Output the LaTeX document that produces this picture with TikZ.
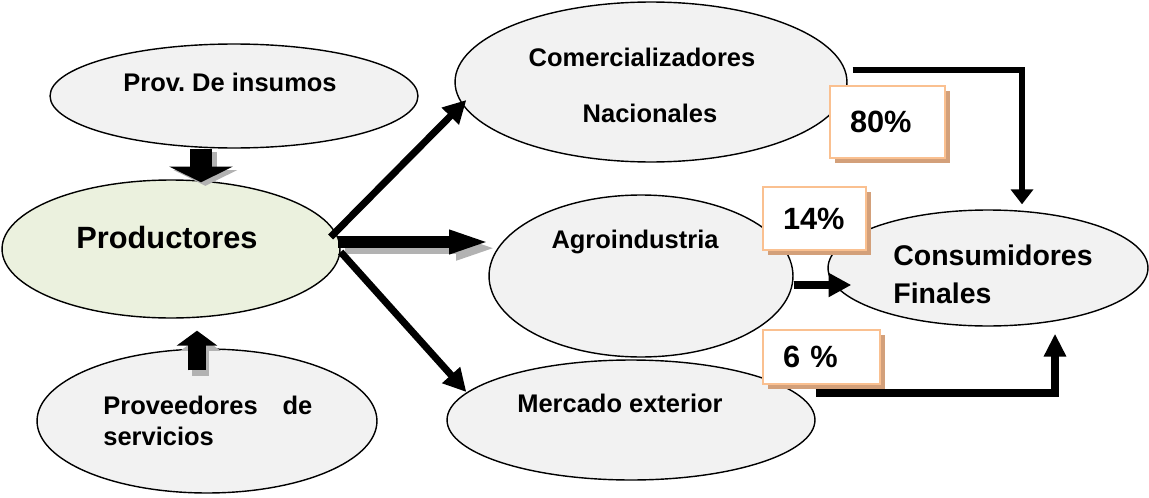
\documentclass[tikz,border=0pt]{standalone}
\usepackage{fontspec}
\setmainfont{Liberation Sans}
\usetikzlibrary{shapes.geometric,arrows.meta,calc,shadows}
\definecolor{ovalgray}{HTML}{F2F2F2}
\definecolor{prodgreen}{HTML}{EBF1DE}
\definecolor{pctline}{HTML}{FAC090}
\definecolor{pctshadow}{HTML}{D3A07A}
\tikzset{
  oval/.style={ellipse,draw,line width=0.8pt,fill=ovalgray,inner sep=0pt},
  lbl/.style={font=\bfseries\fontsize{14.5}{17}\selectfont,inner sep=0pt},
  pct/.style={draw=pctline,line width=1.6pt,fill=white,align=left,inner xsep=0.4cm,
    inner ysep=0pt,font=\bfseries\fontsize{17.5}{20}\selectfont,
    general shadow={fill=pctshadow,shadow xshift=2.8pt,shadow yshift=-2.8pt}},
  flow/.style={line width=4pt,-{Triangle[length=13pt,width=13pt]}}
}
\begin{document}
\begin{tikzpicture}[x=0.02cm,y=-0.02cm]
  \useasboundingbox (0,0) rectangle (1149,497);

  % the ovals
  \node[oval,minimum width=7.36cm,minimum height=2.08cm] (prov) at (234,96) {};
  \node[oval,fill=prodgreen,minimum width=6.76cm,minimum height=2.76cm] (prod) at (171,249) {};
  \node[oval,minimum width=6.8cm,minimum height=2.88cm] (serv) at (207,421) {};
  \node[oval,minimum width=7.36cm,minimum height=2.4cm] (mer) at (631,420) {};
  \node[oval,minimum width=6.08cm,minimum height=3.24cm] (agro) at (641,276) {};
  \node[oval,minimum width=7.84cm,minimum height=3.2cm] (com) at (651,82) {};
  \node[oval,minimum width=6.4cm,minimum height=2.32cm] (cons) at (988,268) {};

  % their texts
  \node[lbl] (tprov) at (230,82) {Prov.\ De insumos};
  \node[lbl,font=\bfseries\fontsize{17.5}{20}\selectfont] (tprod) at (167,238) {Productores};
  \node[lbl,anchor=west,text width=4.18cm,align=left,
    font=\bfseries\fontsize{14.5}{18}\selectfont] (tserv) at (103,421) {Proveedores\hfill de\\servicios};
  \node[lbl] (tcom) at (642,57) {Comercializadores};
  \node[lbl] (tnac) at (650,113) {Nacionales};
  \node[lbl] (tagro) at (635,242) {Agroindustria};
  \node[lbl] (tmer) at (620,403) {Mercado exterior};
  \node[lbl,anchor=west,align=left,
    font=\bfseries\fontsize{16.2}{21.5}\selectfont] (tcons) at (893,274) {Consumidores\\Finales};

  % block arrows into Productores
  \draw[black!30,line width=13pt,-{Triangle[length=9pt,width=36pt]},
    transform canvas={xshift=2.5pt,yshift=-2pt}]
    ($(prov.south)+(-33,0)$) -- ($(prod.north)+(30,3)$);
  \draw[line width=13pt,-{Triangle[length=9pt,width=36pt]}]
    ($(prov.south)+(-33,0)$) -- ($(prod.north)+(30,3)$);
  \draw[black!30,line width=10pt,-{Triangle[length=8.5pt,width=22.7pt]},
    transform canvas={xshift=2pt,yshift=-3pt}]
    ($(serv.north)+(-10,22)$) -- ($(prod.south)+(26,12)$);
  \draw[line width=10pt,-{Triangle[length=8.5pt,width=22.7pt]}]
    ($(serv.north)+(-10,22)$) -- ($(prod.south)+(26,12)$);
  \draw[black!30,line width=7pt,-{Triangle[length=24pt,width=12pt]},
    transform canvas={xshift=4pt,yshift=-3.5pt}]
    ($(prod.east)+(-3,-7)$) -- ($(agro.west)+(3,-34)$);
  \draw[line width=7pt,-{Triangle[length=24pt,width=12pt]}]
    ($(prod.east)+(-3,-7)$) -- ($(agro.west)+(3,-34)$);

  % flows out of Productores
  \draw[flow] ($(prod.east)+(-10,-12)$) -- ($(com.west)+(12,18)$);
  \draw[flow] ($(prod.east)+(0,3)$) -- ($(mer.west)+(20,-28)$);

  % flows into Consumidores Finales
  \draw[flow,line width=3.6pt,-{Triangle[length=8.5pt,width=12.5pt]}]
    ($(com.east)+(5,-12)$) -| ($(cons.north)+(34,-5)$);
  \draw[flow] ($(agro.east)+(0,9)$) -- ($(cons.west)+(24,17)$);
  \draw[flow,line width=4.4pt,-{Triangle[length=13pt,width=12pt]}]
    ($(mer.east)+(0,-27)$) -| ($(cons.south)+(67,7)$);

  % shares
  \node[pct,text width=1.5cm,minimum height=1.44cm] (p80) at (887.5,122) {80\%};
  \node[pct,text width=1.26cm,minimum height=1.26cm] (p14) at (814.5,218.5) {14\%};
  \node[pct,text width=1.54cm,minimum height=1.08cm] (p6) at (821.5,357) {6 \%};
\end{tikzpicture}
\end{document}
